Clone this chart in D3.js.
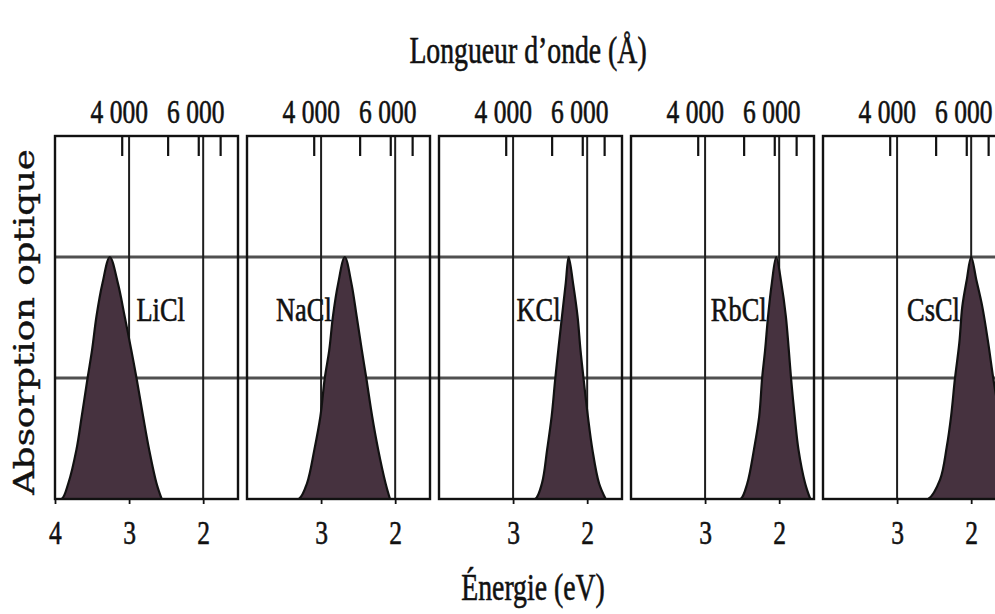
<!DOCTYPE html>
<html>
<head>
<meta charset="utf-8">
<script src="https://cdn.jsdelivr.net/npm/d3@7"></script>
<style>
  html, body { margin: 0; padding: 0; background: #fff; }
  svg { display: block; }
</style>
</head>
<body>
<script>
// F-centre absorption bands of the alkali chlorides
const compounds = ["LiCl", "NaCl", "KCl", "RbCl", "CsCl"];

// [photon energy (eV), optical absorption (arb. units)], from high to low energy
const bandLiCl = [[4.00, 0], [3.91, 0], [3.82, 0.13], [3.71, 0.41], [3.64, 0.68], [3.56, 1.0], [3.50, 1.23], [3.44, 1.51], [3.36, 1.78], [3.26, 2.0], [3.15, 1.78], [3.06, 1.51], [2.97, 1.23], [2.90, 1.0], [2.81, 0.68], [2.73, 0.41], [2.63, 0.13], [2.56, 0]];
const bandNaCl = [[3.45, 0], [3.30, 0], [3.19, 0.13], [3.09, 0.41], [3.01, 0.68], [2.95, 1.0], [2.89, 1.23], [2.84, 1.51], [2.77, 1.78], [2.68, 2.0], [2.59, 1.78], [2.52, 1.51], [2.45, 1.23], [2.39, 1.0], [2.31, 0.68], [2.23, 0.41], [2.13, 0.13], [2.07, 0]];
const bandKCl  = [[2.80, 0], [2.70, 0], [2.61, 0.13], [2.54, 0.41], [2.48, 0.68], [2.43, 1.0], [2.39, 1.23], [2.34, 1.51], [2.29, 1.78], [2.25, 2.0], [2.19, 1.78], [2.13, 1.51], [2.09, 1.23], [2.05, 1.0], [1.99, 0.68], [1.93, 0.41], [1.84, 0.13], [1.75, 0]];
const bandRbCl = [[2.62, 0], [2.52, 0], [2.43, 0.13], [2.34, 0.41], [2.27, 0.68], [2.23, 1.0], [2.19, 1.23], [2.15, 1.51], [2.10, 1.78], [2.04, 2.0], [1.97, 1.78], [1.91, 1.51], [1.87, 1.23], [1.84, 1.0], [1.79, 0.68], [1.74, 0.41], [1.65, 0.13], [1.58, 0]];
const bandCsCl = [[2.70, 0], [2.58, 0], [2.42, 0.16], [2.33, 0.43], [2.27, 0.69], [2.22, 0.99], [2.16, 1.29], [2.12, 1.59], [2.06, 1.81], [2.00, 2.0], [1.93, 1.81], [1.85, 1.59], [1.77, 1.29], [1.70, 0.99], [1.62, 0.69], [1.55, 0.43], [1.45, 0.16], [1.38, 0]];
const bands = [bandLiCl, bandNaCl, bandKCl, bandRbCl, bandCsCl];

const energyTicks = [4, 3, 2];          // eV, bottom axis
const energyGrid = [3, 2];              // eV, vertical grid lines
const wavelengthTicks = [4000, 5000, 6000, 7000];  // Å, top axis
const wavelengthLabels = [4000, 6000];
const absorptionGrid = [1, 2];

// ---- layout ----
const W = 995, H = 614;
const panel = { left: 55, pitch: 192, width: 183, top: 136, bottom: 499 };
const HC = 12398.4;                 // eV·Å
const energyDomain = [4, 1.53];
const serif = "'Liberation Serif', 'Times New Roman', serif";
const ink = "#111";

const frNum = d3.formatLocale({ decimal: ",", thousands: "\u00a0", grouping: [3], currency: ["", " €"] }).format(",d");

const svg = d3.select("body").append("svg").attr("width", W).attr("height", H);
svg.append("rect").attr("width", W).attr("height", H).attr("fill", "#fff");

const y = d3.scaleLinear().domain([0, 3]).range([panel.bottom, panel.top]);

function hText(parent, str, x, yy, size, sx, anchor) {
  return parent.append("text")
    .attr("transform", `translate(${x},${yy}) scale(${sx},1)`)
    .attr("text-anchor", anchor || "middle")
    .attr("font-family", serif)
    .attr("font-size", size)
    .attr("fill", ink)
    .attr("stroke", ink).attr("stroke-width", 0.6)
    .text(str);
}

// screen x where a band flank crosses a given absorption level
function flankX(pts, level, side, x) {
  const iPeak = d3.maxIndex(pts, d => d[1]);
  const seg = side === "left" ? pts.slice(0, iPeak + 1) : pts.slice(iPeak).reverse();
  for (let k = 1; k < seg.length; k++) {
    if (seg[k][1] >= level) {
      const [e0, a0] = seg[k - 1], [e1, a1] = seg[k];
      const t = (level - a0) / (a1 - a0);
      return x(e0 + t * (e1 - e0));
    }
  }
  return x(pts[iPeak][0]);
}

// horizontal grid lines run through all panels
const lastRight = panel.left + panel.pitch * (compounds.length - 1) + panel.width;
svg.append("g").selectAll("line").data(absorptionGrid).join("line")
  .attr("x1", panel.left).attr("x2", lastRight)
  .attr("y1", d => y(d)).attr("y2", d => y(d))
  .attr("stroke", "#505050").attr("stroke-width", 2.8);

compounds.forEach((name, i) => {
  const left = panel.left + i * panel.pitch;
  const x = d3.scaleLinear().domain(energyDomain).range([left, left + panel.width]);
  const xl = d3.scalePow().exponent(-1)
    .domain([HC / energyDomain[0], HC / energyDomain[1]])
    .range([left, left + panel.width]);

  const g = svg.append("g");
  const clipId = "clip-" + name;
  g.append("clipPath").attr("id", clipId).append("rect")
    .attr("x", left).attr("y", panel.top)
    .attr("width", panel.width).attr("height", panel.bottom - panel.top);

  // vertical grid
  g.append("g").selectAll("line").data(energyGrid).join("line")
    .attr("x1", d => x(d)).attr("x2", d => x(d))
    .attr("y1", panel.top).attr("y2", panel.bottom)
    .attr("stroke", "#1e1e1e").attr("stroke-width", 2);

  // absorption band
  const pts = bands[i];
  const curve = d3.curveCatmullRom.alpha(0.5);
  const area = d3.area().x(d => x(d[0])).y0(y(0)).y1(d => y(d[1])).curve(curve);
  const line = d3.line().x(d => x(d[0])).y(d => y(d[1])).curve(curve);
  const band = g.append("g").attr("clip-path", `url(#${clipId})`);
  band.append("path").attr("d", area(pts)).attr("fill", "#46323f");
  band.append("path").attr("d", line(pts)).attr("fill", "none")
    .attr("stroke", ink).attr("stroke-width", 2.2);

  // frame
  g.append("rect").attr("x", left).attr("y", panel.top)
    .attr("width", panel.width).attr("height", panel.bottom - panel.top)
    .attr("fill", "none").attr("stroke", ink).attr("stroke-width", 2.4);

  // wavelength axis (top, ticks pointing inward)
  const top = g.append("g").attr("transform", `translate(0,${panel.top})`)
    .call(d3.axisTop(xl).tickValues(wavelengthTicks)
      .tickSizeInner(-20).tickSizeOuter(0).tickPadding(13)
      .tickFormat(d => wavelengthLabels.includes(d) ? frNum(d) : ""));
  top.select(".domain").remove();
  top.selectAll(".tick line").attr("stroke", ink).attr("stroke-width", 2.2);
  top.selectAll(".tick text")
    .attr("font-family", serif).attr("font-size", 34).attr("fill", ink)
    .attr("stroke", ink).attr("stroke-width", 0.6)
    .attr("x", -4).attr("transform", "scale(0.75,1)");

  // energy axis (bottom)
  const bottom = g.append("g").attr("transform", `translate(0,${panel.bottom})`)
    .call(d3.axisBottom(x)
      .tickValues(i === 0 ? energyTicks : energyTicks.filter(d => d < energyDomain[0]))
      .tickSizeInner(5).tickSizeOuter(0).tickPadding(16)
      .tickFormat(d3.format("d")));
  bottom.select(".domain").remove();
  bottom.selectAll(".tick line").attr("stroke", ink).attr("stroke-width", 1.8);
  bottom.selectAll(".tick text")
    .attr("font-family", serif).attr("font-size", 34).attr("fill", ink)
    .attr("stroke", ink).attr("stroke-width", 0.6)
    .attr("transform", "scale(0.75,1)");

  // compound label beside its band
  if (i === 0) {
    hText(g, name, flankX(pts, 1.35, "right", x) + 8, 321, 33, 0.8, "start");
  } else {
    hText(g, name, flankX(pts, 1.55, "left", x) - 2, 321, 33, 0.8, "end");
  }
});

// axis titles
hText(svg, "Longueur d\u2019onde (Å)", 528, 63, 37, 0.75);
hText(svg, "Énergie (eV)", 533, 600, 37, 0.75);
svg.append("text")
  .attr("transform", "translate(34,322) rotate(-90) scale(1.27,1)")
  .attr("text-anchor", "middle")
  .attr("font-family", "'DejaVu Serif', serif")
  .attr("font-size", 28)
  .attr("fill", ink)
  .attr("stroke", ink).attr("stroke-width", 0.4)
  .text("Absorption optique");
</script>
</body>
</html>
